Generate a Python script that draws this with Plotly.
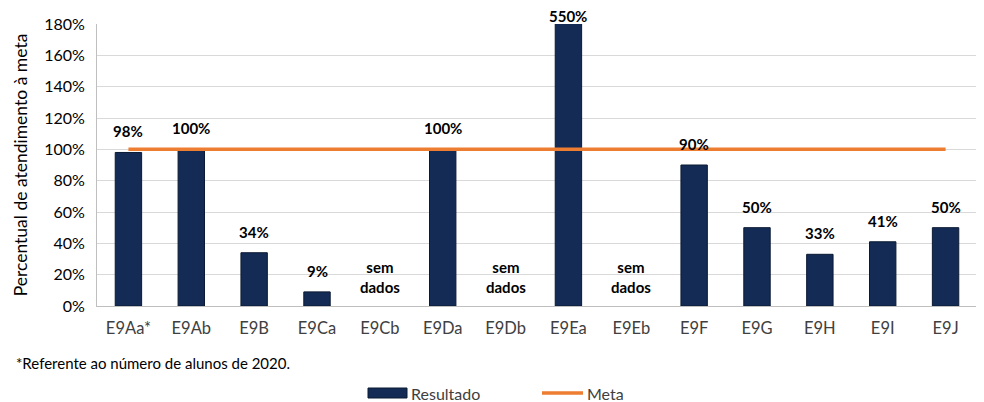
import plotly.graph_objects as go

categories = ["E9Aa*", "E9Ab", "E9B", "E9Ca", "E9Cb", "E9Da", "E9Db", "E9Ea", "E9Eb",
              "E9F", "E9G", "E9H", "E9I", "E9J"]
resultado = [0.98, 1.00, 0.34, 0.09, None, 1.00, None, 5.50, None, 0.90, 0.50, 0.33, 0.41, 0.50]
meta = [1.0] * len(categories)
series_names = ["Resultado", "Meta"]
y_max = 1.8
y_ticks = [0, 0.2, 0.4, 0.6, 0.8, 1.0, 1.2, 1.4, 1.6, 1.8]
footnote = "*Referente ao número de alunos de 2020."

FONT = "Lato"
NAVY = "#132B55"
ORANGE = "#ED7D31"

OFF = 8  # page body margin
W, H = 976, 394
ML, MR, MT, MB = 89, 7, 16, 96
PW, PH = W - ML - MR, H - MT - MB


def px_x(p):
    return (p - OFF - ML) / PW


def px_y(p):
    return (H - MB - (p - OFF)) / PH


fig = go.Figure()
fig.add_trace(go.Bar(
    x=categories, y=resultado,
    name=series_names[0], marker=dict(color=NAVY, line=dict(color="#0b1a33", width=1)),
    width=0.42, showlegend=False,
))
fig.add_trace(go.Scatter(
    x=categories, y=meta, name=series_names[1], mode="lines",
    line=dict(color=ORANGE, width=3.5), showlegend=False,
))

annotations = []
for c, v in zip(categories, resultado):
    if v is None:
        annotations.append(dict(x=c, y=0, text="<b>sem<br>dados</b>", showarrow=False,
                                yanchor="bottom", yshift=8,
                                font=dict(family=FONT, size=15, color="#000000")))
    else:
        clipped = v > y_max
        if clipped:
            annotations.append(dict(x=c, y=y_max, text="<b>%d%%</b>" % round(v * 100),
                                    showarrow=False, yanchor="middle", yshift=8,
                                    font=dict(family=FONT, size=15, color="#000000")))
        else:
            annotations.append(dict(x=c, y=v, text="<b>%d%%</b>" % round(v * 100),
                                    showarrow=False, yanchor="bottom", yshift=10,
                                    font=dict(family=FONT, size=15, color="#000000")))
annotations.append(dict(xref="paper", yref="paper", x=px_x(14), y=px_y(363), xanchor="left",
                        yanchor="middle", showarrow=False, text=footnote,
                        font=dict(family=FONT, size=15, color="#000000")))
# custom legend
annotations.append(dict(xref="paper", yref="paper", x=px_x(409), y=px_y(393), xanchor="left",
                        yanchor="middle", showarrow=False, text=series_names[0],
                        font=dict(family=FONT, size=16, color="#404040")))
annotations.append(dict(xref="paper", yref="paper", x=px_x(585), y=px_y(393), xanchor="left",
                        yanchor="middle", showarrow=False, text=series_names[1],
                        font=dict(family=FONT, size=16, color="#404040")))
shapes = [
    dict(type="rect", xref="paper", yref="paper", x0=px_x(368), x1=px_x(407),
         y0=px_y(398), y1=px_y(388), fillcolor=NAVY, line=dict(color="#0b1a33", width=1)),
    dict(type="line", xref="paper", yref="paper", x0=px_x(542), x1=px_x(583),
         y0=px_y(393), y1=px_y(393), line=dict(color=ORANGE, width=3.5)),
]

fig.update_layout(
    width=W, height=H,
    margin=dict(l=ML, r=MR, t=MT, b=MB),
    paper_bgcolor="white", plot_bgcolor="white",
    font=dict(family=FONT, size=15, color="#404040"),
    annotations=annotations, shapes=shapes,
    showlegend=False,
    bargap=0.58,
)
fig.update_xaxes(showline=True, linecolor="#bfbfbf", linewidth=1, ticks="", automargin=False,
                 ticklabelstandoff=7,
                 tickfont=dict(family=FONT, size=16.5, color="#404040"))
fig.update_yaxes(range=[0, y_max], tickvals=y_ticks, tickformat=".0%", automargin=False,
                 showgrid=True, gridcolor="#d9d9d9", gridwidth=1,
                 showline=True, linecolor="#bfbfbf", linewidth=1,
                 zeroline=False, ticks="outside", ticklen=8, tickcolor="rgba(0,0,0,0)",
                 title=dict(text="Percentual de atendimento à meta",
                            font=dict(family=FONT, size=17.5, color="#000000"), standoff=12),
                 tickfont=dict(family=FONT, size=16, color="#000000"))

fig.write_html("out.html")
